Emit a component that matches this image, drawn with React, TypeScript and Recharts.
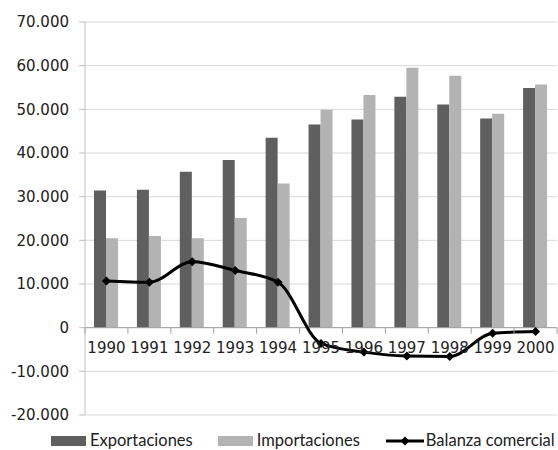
import React from 'react';
import { ComposedChart, Bar, Line, XAxis, YAxis, CartesianGrid, ReferenceLine, Legend } from 'recharts';

const years = ['1990', '1991', '1992', '1993', '1994', '1995', '1996', '1997', '1998', '1999', '2000'];
const exportaciones = [31400, 31600, 35700, 38400, 43500, 46500, 47700, 52900, 51100, 47900, 54900];
const importaciones = [20500, 21000, 20500, 25100, 33000, 49900, 53300, 59500, 57700, 49000, 55700];
const balanza = [10700, 10400, 15100, 13100, 10400, -3600, -5600, -6500, -6600, -1300, -900];
const yTicks = [-20000, -10000, 0, 10000, 20000, 30000, 40000, 50000, 60000, 70000];

const data = years.map((y, i) => ({
  year: y,
  Exportaciones: exportaciones[i],
  Importaciones: importaciones[i],
  'Balanza comercial': balanza[i],
}));

const W = 558;
const H = 450;
const MARGIN = { top: 22, right: 1, left: 0, bottom: 0 };
const Y_AXIS_W = 85;
const X_AXIS_H = 15;
const LEGEND_H = 20;
const PLOT_TOP = MARGIN.top;
const PLOT_H = H - MARGIN.top - MARGIN.bottom - X_AXIS_H - LEGEND_H;
const PLOT_W = W - MARGIN.left - MARGIN.right - Y_AXIS_W;
const Y_MIN = -20000;
const Y_MAX = 70000;
const ZERO_Y = PLOT_TOP + (PLOT_H * Y_MAX) / (Y_MAX - Y_MIN);
const BAND = PLOT_W / years.length;

const FONT = '"DejaVu Sans", Verdana, sans-serif';
const LEGEND_FONT = 'Lato, "Open Sans", sans-serif';

const fmt = (v: number) => {
  const s = Math.abs(v).toString().replace(/\B(?=(\d{3})+(?!\d))/g, '.');
  return v < 0 ? '-' + s : s;
};

const XTick = (props: any) => {
  const { x, payload, index } = props;
  const bx = x - BAND / 2;
  const ex = x + BAND / 2;
  return (
    <g>
      <line x1={bx} y1={ZERO_Y} x2={bx} y2={ZERO_Y + 6} stroke="#a0a0a0" strokeWidth={1} />
      {index === years.length - 1 && (
        <line x1={ex} y1={ZERO_Y} x2={ex} y2={ZERO_Y + 6} stroke="#a0a0a0" strokeWidth={1} />
      )}
      <text x={x} y={ZERO_Y + 25} textAnchor="middle" fill="#222" fontSize={15} fontFamily={FONT}>
        {payload.value}
      </text>
    </g>
  );
};

const Diamond = (props: any) => {
  const { cx, cy } = props;
  if (cx == null || cy == null) return null;
  const r = 4.5;
  return <path d={`M${cx},${cy - r}L${cx + r},${cy}L${cx},${cy + r}L${cx - r},${cy}Z`} fill="#000" />;
};

const LegendContent = (props: any) => {
  const payload = props.payload || [];
  const order = ['Exportaciones', 'Importaciones', 'Balanza comercial'];
  const items = order.map((n) => payload.find((p: any) => p.value === n)).filter(Boolean);
  const gaps = [25, 26, 0];
  return (
    <div
      style={{
        height: LEGEND_H,
        boxSizing: 'border-box',
        paddingTop: 1,
        display: 'flex',
        alignItems: 'center',
        paddingLeft: 51,
        fontFamily: LEGEND_FONT,
        fontSize: 16.5,
        lineHeight: '19px',
        color: '#222',
        whiteSpace: 'nowrap',
      }}
    >
      {items.map((it: any, i: number) => (
        <div key={it.value} style={{ display: 'flex', alignItems: 'center', marginRight: gaps[i] }}>
          {it.type === 'line' ? (
            <svg width={38} height={12} style={{ marginRight: 2 }}>
              <line x1={0} y1={6} x2={38} y2={6} stroke="#000" strokeWidth={3} />
              <path d="M19,1.5L23.5,6L19,10.5L14.5,6Z" fill="#000" />
            </svg>
          ) : (
            <div style={{ width: 35, height: 10, background: it.color, marginRight: 4 }} />
          )}
          <span>{it.value}</span>
        </div>
      ))}
    </div>
  );
};

export default function App() {
  return (
    <div style={{ position: 'absolute', left: 0, top: 0, width: W, height: H, background: '#fff' }}>
      <ComposedChart width={W} height={H} data={data} margin={MARGIN} barGap={0}>
        <CartesianGrid vertical={false} stroke="#d9d9d9" />
        <XAxis
          dataKey="year"
          axisLine={false}
          tickLine={false}
          height={X_AXIS_H}
          interval={0}
          tick={<XTick />}
        />
        <YAxis
          width={Y_AXIS_W}
          domain={[Y_MIN, Y_MAX]}
          ticks={yTicks}
          tickFormatter={fmt}
          axisLine={{ stroke: '#bfbfbf' }}
          tickLine={{ stroke: '#bfbfbf' }}
          tickSize={6}
          tickMargin={10}
          tick={{ fill: '#222', fontSize: 15, fontFamily: FONT }}
          allowDataOverflow
        />
        <ReferenceLine y={0} stroke="#a0a0a0" strokeWidth={1} />
        <Bar dataKey="Exportaciones" fill="#5f5f5f" barSize={12} isAnimationActive={false} legendType="rect" />
        <Bar dataKey="Importaciones" fill="#b3b3b3" barSize={12} isAnimationActive={false} legendType="rect" />
        <Line
          dataKey="Balanza comercial"
          type="monotone"
          stroke="#000"
          strokeWidth={3}
          dot={<Diamond />}
          activeDot={false}
          isAnimationActive={false}
          legendType="line"
        />
        <Legend
          verticalAlign="bottom"
          align="left"
          content={<LegendContent />}
          wrapperStyle={{ left: 0, width: W }}
        />
      </ComposedChart>
    </div>
  );
}
